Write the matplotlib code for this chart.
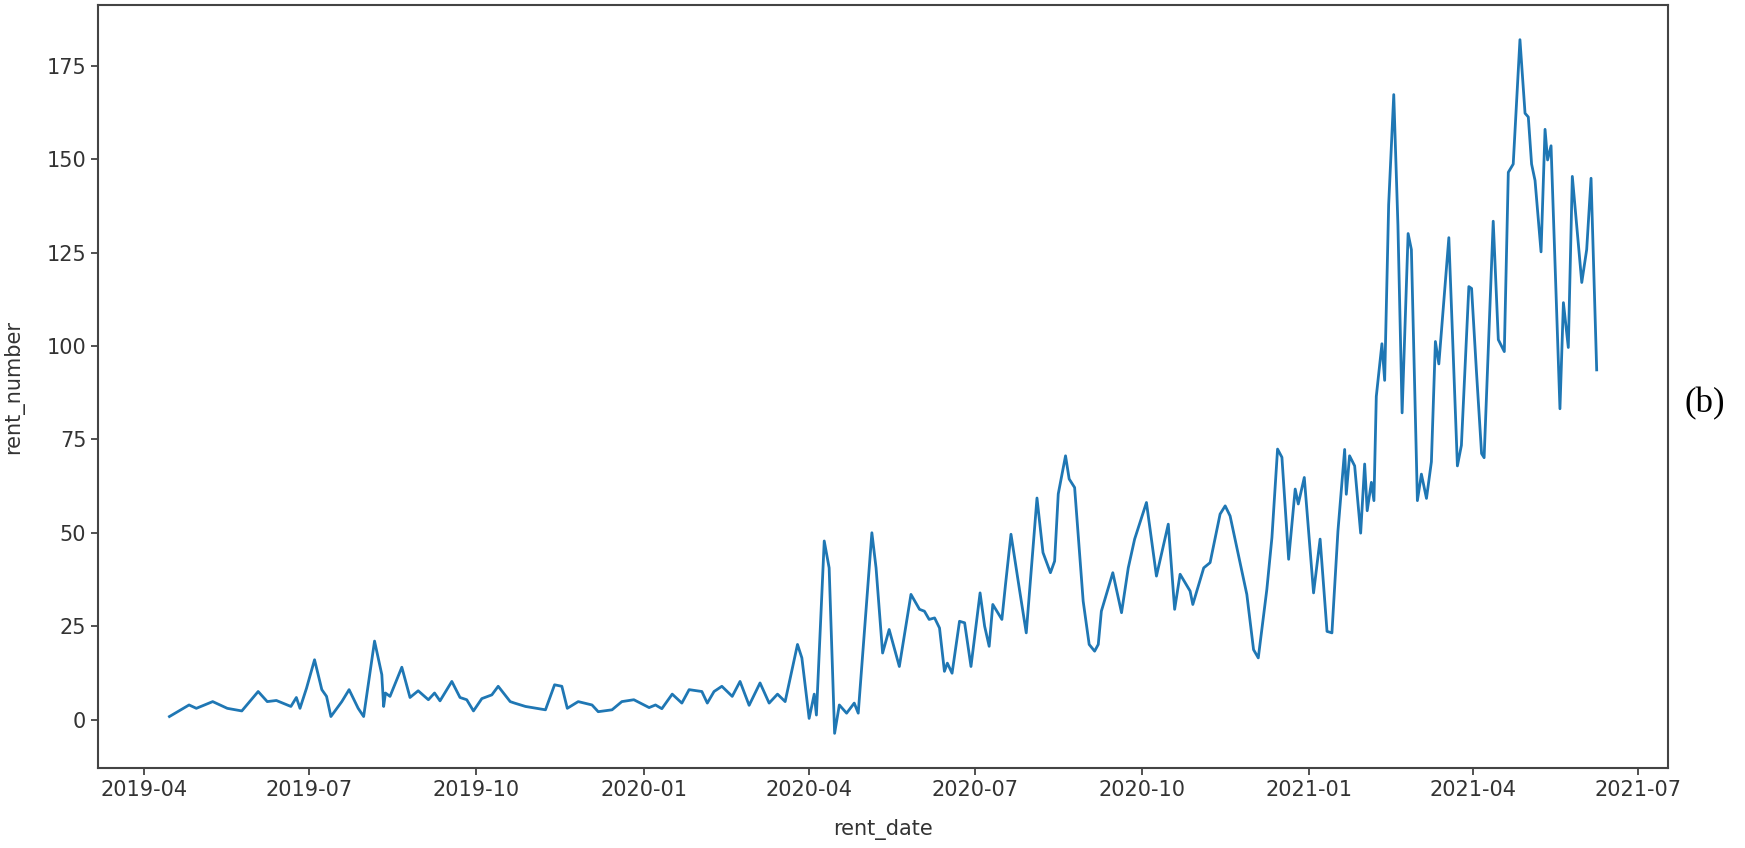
import matplotlib
matplotlib.use('Agg')
import matplotlib.pyplot as plt
import matplotlib.dates as mdates
import pandas as pd
import numpy as np

# days after 2019-04-01
start_date = '2019-04-01'
day_offset = [
    14.2, 25, 29, 38, 46, 54, 63, 68, 73, 81, 84, 86, 89.6, 94, 98, 100.6, 103, 109, 113, 118,
    121, 127, 131, 132, 133, 135.5, 142, 146.5, 151, 156.6, 160, 163, 169.5, 174, 177.7, 181.4,
    186, 191.5, 195, 201.6, 204, 210, 221, 226,
    230, 233, 239, 246.6, 250, 257.6, 263, 269.6, 278, 281.5, 285, 290.7, 296, 300, 307, 310,
    313.7, 318, 323.7, 328, 333, 339, 344, 348.6, 352.8, 359.6, 362, 366, 368.8, 370, 374.3,
    377, 380, 382.6, 386.6, 390.8, 393, 400.5, 402.8, 406.4, 410, 415.6, 422, 426.7, 429.4,
    432, 435, 437.7, 440.4, 442, 444.6,
    448.7, 451.5, 455, 460, 462.5, 465, 467, 472, 474, 477, 481.8, 485.4, 491.3, 494.6, 498.7,
    501, 503, 507, 509, 512, 516.7, 520, 523, 525, 526.7, 533, 537.8, 541.5, 545, 551.5, 557,
    563.5, 567, 570, 575.5, 577, 583, 586.5, 592, 594.8, 597.5, 603, 606.7, 610.4, 613, 617.7,
    620.5, 623.6, 626, 629.7, 633.3, 635, 638.3, 643.4, 647, 650.8, 653.5,
    656.8, 660.5, 661.4, 663.2, 666.0, 669.3, 671.5, 672.9, 675.2, 676.6, 677.9, 681.0, 682.5,
    684.7, 687.5, 689.8, 692.1, 695.4, 697.2, 700.5, 702.7, 705.5, 708.2, 710.4, 712.3, 717.8,
    722.5, 724.7, 728.8, 730.3, 733.0, 735.8, 737.2, 742.2, 745.0, 748.3, 750.5, 753.2, 756.9,
    759.7, 761.5, 763.3, 765.2, 768.5, 770.7, 772.1, 774.0, 778.9, 780.8, 783.5, 785.7, 789.0,
    790.9, 793.6, 796.0, 799.1,
]
rent_number = [
    0.8, 3.9, 3.0, 4.8, 3.0, 2.3, 7.5, 4.8, 5.1, 3.5, 5.9, 3.0, 8.4, 16.0, 8.0, 6.2, 0.8, 4.8, 8.0, 3.0,
    0.8, 21.0, 12.0, 3.5, 7.1, 6.2, 14.0, 5.9, 7.7, 5.3, 7.1, 5.0, 10.2, 5.9, 5.3, 2.3,
    5.6, 6.6, 8.9, 4.8, 4.4, 3.5, 2.6, 9.3,
    8.9, 3.0, 4.8, 3.9, 2.1, 2.6, 4.8, 5.3, 3.2, 3.9, 2.9, 6.8, 4.4, 8.0, 7.5, 4.4,
    7.5, 8.9, 6.2, 10.2, 3.8, 9.8, 4.4, 6.8, 4.8, 20.1, 16.5, 0.3, 6.8, 1.2, 47.8,
    40.6, -3.7, 3.9, 1.7, 4.4, 1.7, 50.0, 40.6, 17.8, 24.1, 14.2, 33.5, 29.5, 29.0,
    26.8, 27.2, 24.5, 12.9, 15.1, 12.4,
    26.3, 25.9, 14.2, 33.9, 25.0, 19.6, 30.8, 26.8, 36.2, 49.6, 34.4, 23.2, 59.3, 44.7, 39.3,
    42.4, 60.4, 70.6, 64.4, 62.1, 31.7, 20.1, 18.3, 20.1, 29.0, 39.3, 28.6, 40.6, 48.3, 58.1, 38.4,
    52.3, 29.5, 38.9, 34.4, 30.8, 40.6, 42.0, 55.0, 57.2, 54.5, 42.0, 33.5, 18.7, 16.5, 34.8,
    48.7, 72.4, 70.2, 42.9, 61.7, 57.7, 64.8, 33.9, 48.3, 23.6, 23.2,
    50.4, 72.3, 60.3, 70.6, 67.9, 49.9, 68.4, 55.9, 63.5, 58.6, 86.5, 100.6, 90.8,
    137.8, 167.3, 132.3, 82.1, 130.1, 125.8, 58.6, 65.7, 59.2, 69.0, 101.2, 95.2, 129.0,
    67.9, 73.4, 115.9, 115.4, 93.0, 71.2, 70.1, 133.4, 101.7, 98.5, 146.5, 148.7, 182.0,
    162.3, 161.3, 148.7, 144.3, 125.2, 158.0, 149.8, 153.6, 83.2, 111.6, 99.6, 145.4, 127.4,
    117.0, 125.8, 144.9, 93.6,
]

rent_date = pd.Timestamp(start_date) + pd.to_timedelta(day_offset, unit='D')

plt.rcParams['font.family'] = 'DejaVu Sans'

fig = plt.figure(figsize=(17.45, 8.48), dpi=100)
ax = fig.add_axes([0.0562, 0.0943, 0.8997, 0.8998])

ax.plot(rent_date, rent_number, color='#1f77b4', linewidth=2)

ax.xaxis.set_major_locator(mdates.MonthLocator(bymonth=[1, 4, 7, 10]))
ax.xaxis.set_major_formatter(mdates.DateFormatter('%Y-%m'))
ax.set_yticks(np.arange(0, 176, 25))

ax.set_xlabel('rent_date', fontsize=15, color='#333333', labelpad=14)
ax.set_ylabel('rent_number', fontsize=15, color='#333333', labelpad=16)
ax.tick_params(labelsize=15, colors='#333333', length=5, width=1.2)
for s in ax.spines.values():
    s.set_color('#444444')
    s.set_linewidth(1.5)

fig.text(0.977, 0.524, '(b)', fontsize=25, family='Liberation Serif', ha='center', va='center')

fig.savefig('out.png', dpi=100)
